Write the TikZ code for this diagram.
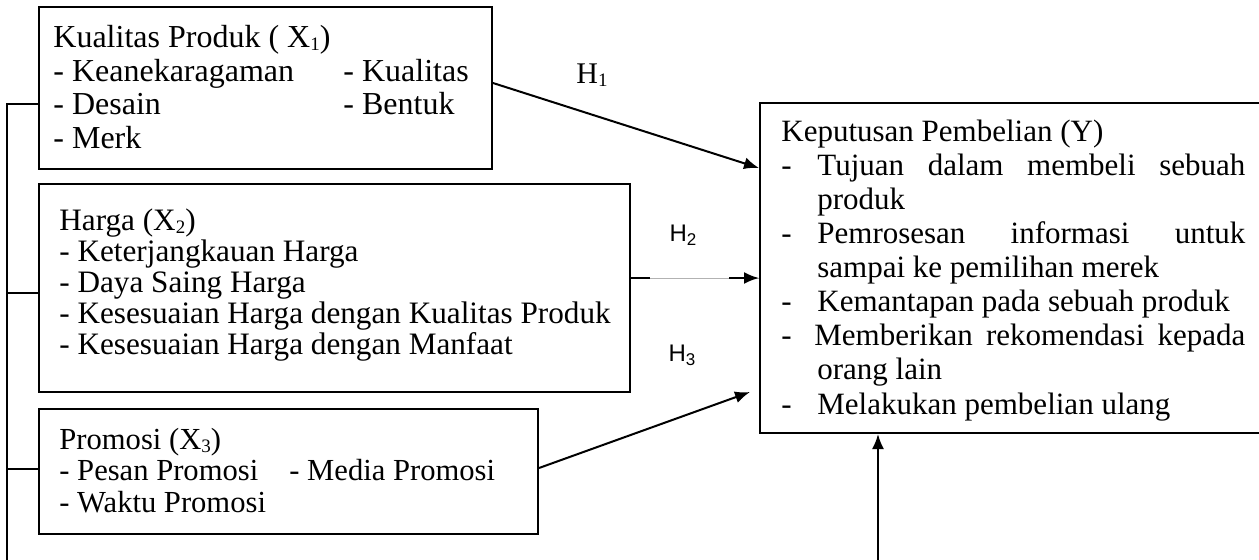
\documentclass[tikz,border=0pt]{standalone}
\usepackage{fontspec}
\setmainfont{Liberation Serif}
\newfontfamily\hsans{Liberation Sans}
\usetikzlibrary{arrows.meta,fit}
\newcommand{\ydash}{\makebox[18pt][l]{-}}
\newcommand{\sbs}[1]{\raisebox{-0.25ex}{\fontsize{9.5}{10}\selectfont #1}}
\newcommand{\sbh}[1]{\raisebox{-0.3ex}{\fontsize{8.5}{9}\selectfont #1}}
\begin{document}
\begin{tikzpicture}[x=0.5pt,y=-0.5pt,
  box/.style={draw,line width=1pt,inner sep=0pt},
  ln/.style={anchor=base west,inner sep=0pt},
  fa/.style={font=\fontsize{16}{17}\selectfont},
  fb/.style={font=\fontsize{15.6}{15.5}\selectfont},
  fc/.style={font=\fontsize{15.3}{15.75}\selectfont},
  fy/.style={font=\fontsize{15.5}{17}\selectfont},
  hlab/.style={inner sep=0pt,font=\hsans\fontsize{12}{14}\selectfont},
  hlabs/.style={inner sep=0pt,font=\fontsize{15}{17}\selectfont},
  conn/.style={line width=1pt},
  arr/.style={line width=1pt,-{Latex[length=7.5pt,width=6pt]}}]
\useasboundingbox (0,0) rectangle (1259,559);
\clip (0,0) rectangle (1259,559);
% boxes
\node[box,fit={(39,7) (492,169)}] (x1) {};
\node[box,fit={(39,184) (630,392)}] (x2) {};
\node[box,fit={(39,409) (538,534)}] (x3) {};
\node[box,fit={(760,103) (1290,433)}] (yb) {};
% X1 text
\node[ln,fa] (x1a) at (53,47) {Kualitas Produk ( X\sbs{1})};
\node[ln,fa] (x1b) at (53,81) {\makebox[145pt][l]{- Keanekaragaman}- Kualitas};
\node[ln,fa] (x1c) at (53,114) {\makebox[145pt][l]{- Desain}- Bentuk};
\node[ln,fa] (x1d) at (53,148) {- Merk};
% X2 text
\node[ln,fb] (x2a) at (59,230) {Harga (X\sbs{2})};
\node[ln,fb] (x2b) at (59,261) {- Keterjangkauan Harga};
\node[ln,fb] (x2c) at (59,292) {- Daya Saing Harga};
\node[ln,fb] (x2d) at (59,323) {- Kesesuaian Harga dengan Kualitas Produk};
\node[ln,fb] (x2e) at (59,354) {- Kesesuaian Harga dengan Manfaat};
% X3 text
\node[ln,fc] (x3a) at (59,449) {Promosi (X\sbs{3})};
\node[ln,fc] (x3b) at (59,480) {\makebox[115pt][l]{- Pesan Promosi}- Media Promosi};
\node[ln,fc] (x3c) at (59,512) {- Waktu Promosi};
% Y text
\node[ln,fy] (ya) at (781,141) {Keputusan Pembelian (Y)};
\node[ln,fy] (yb1) at (781,175) {\ydash\hbox to 214pt{Tujuan\hfill dalam\hfill membeli\hfill sebuah}};
\node[ln,fy] (yb2) at (781,209) {\hspace*{18pt}produk};
\node[ln,fy] (yc1) at (781,243) {\ydash\hbox to 214pt{Pemrosesan\hfill informasi\hfill untuk}};
\node[ln,fy] (yc2) at (781,277) {\hspace*{18pt}sampai ke pemilihan merek};
\node[ln,fy] (yd) at (781,311) {\ydash Kemantapan pada sebuah produk};
\node[ln,fy] (ye1) at (781,345) {\makebox[16.5pt][l]{-}\hbox to 215.5pt{Memberikan\hfill rekomendasi\hfill kepada}};
\node[ln,fy] (ye2) at (781,379) {\hspace*{18pt}orang lain};
\node[ln,fy] (yf) at (781,414) {\ydash Melakukan pembelian ulang};
% labels
\node[hlabs] (h1) at (592,75) {H\sbs{1}};
\node[hlab] (h2) at (683,235) {H\sbh{2}};
\node[hlab] (h3) at (682,355) {H\sbh{3}};
% connector coordinates
\coordinate (t1) at (7,104);
\coordinate (t2) at (7,293);
\coordinate (t3) at (7,469);
\coordinate (bl) at (7,575);
\coordinate (br) at (878,575);
\coordinate (h1s) at (492,83);
\coordinate (h1e) at (758,168);
\coordinate (h2y) at (0,278);
\coordinate (h3s) at (538,468);
\coordinate (h3e) at (750,392);
% left bracket
\draw[conn] (t1 -| x1.west) -- (t1) -- (bl) -- (br);
\draw[conn] (t2 -| x2.west) -- (t2);
\draw[conn] (t3 -| x3.west) -- (t3);
\draw[arr] (br) -- (br |- yb.south);
% hypotheses arrows
\draw[arr] (x1.east |- h1s) -- (yb.west |- h1e);
\draw[line width=0.4pt,black!30] (x2.east |- h2y) -- (yb.west |- h2y);
\draw[conn] (x2.east |- h2y) -- ++(19,0);
\draw[arr] ([xshift=-15pt]yb.west |- h2y) -- (yb.west |- h2y);
\draw[arr] (x3.east |- h3s) -- (h3e);
\end{tikzpicture}
\end{document}
